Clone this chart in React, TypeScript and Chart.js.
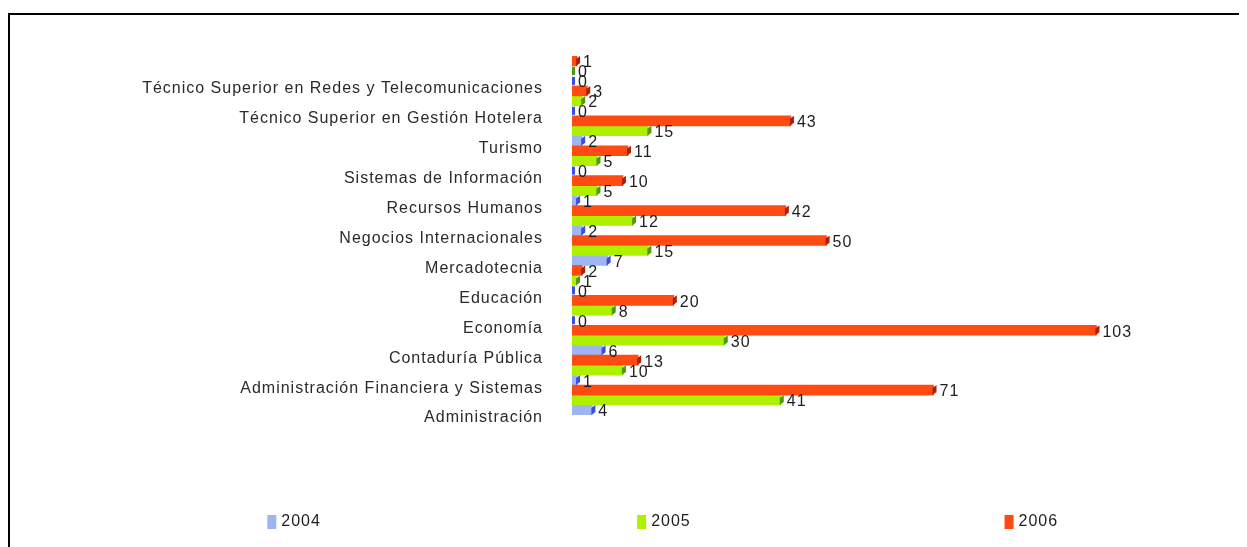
import React, { useEffect, useRef } from "react";
import { Chart, registerables } from "chart.js";

Chart.register(...registerables);

// Categories listed bottom-to-top (axis is reversed so the first one is at the bottom)
const categories: string[] = [
  "Administración",
  "Administración Financiera y Sistemas",
  "Contaduría Pública",
  "Economía",
  "Educación",
  "Mercadotecnia",
  "Negocios Internacionales",
  "Recursos Humanos",
  "Sistemas de Información",
  "Turismo",
  "Técnico Superior en Gestión Hotelera",
  "Técnico Superior en Redes y Telecomunicaciones",
];

const legendNames: string[] = ["2004", "2005", "2006"];
const values2004: number[] = [4, 1, 6, 0, 0, 7, 2, 1, 0, 2, 0, 0];
const values2005: number[] = [41, 10, 30, 8, 1, 15, 12, 5, 5, 15, 2, 0];
const values2006: number[] = [71, 13, 103, 20, 2, 50, 42, 10, 11, 43, 3, 1];

const fillColors: string[] = ["#9db6f2", "#aef000", "#ff4a12"];
const capColors: string[] = ["#3a4ee6", "#4c9a06", "#b01e04"];

const FONT = "'Liberation Sans', Arial, sans-serif";
const SPACING = "1px";

const setSpacing = (chart: any) => {
  try {
    chart.ctx.letterSpacing = SPACING;
  } catch (e) {}
};

const spacingPlugin = {
  id: "spacing",
  beforeInit: setSpacing,
  beforeUpdate: setSpacing,
  beforeLayout: setSpacing,
  beforeDraw: setSpacing,
};

const barDecorations = {
  id: "barDecorations",
  afterDatasetsDraw(chart: any) {
    const ctx = chart.ctx;
    ctx.save();
    chart.data.datasets.forEach((ds: any, di: number) => {
      const meta = chart.getDatasetMeta(di);
      const cap = ds.capColor;
      meta.data.forEach((el: any, i: number) => {
        const x = el.x;
        const y = el.y;
        const h = el.height;
        const top = y - h / 2;
        const bot = y + h / 2;
        ctx.fillStyle = cap;
        if (ds.data[i] > 0) {
          ctx.beginPath();
          ctx.moveTo(x - 1, top + 3);
          ctx.lineTo(x + 3, top);
          ctx.lineTo(x + 3, bot - 3);
          ctx.lineTo(x - 1, bot);
          ctx.closePath();
          ctx.fill();
        } else {
          ctx.fillRect(x, top + 1, 3, h - 2);
        }
      });
    });
    ctx.letterSpacing = SPACING;
    ctx.font = `16px ${FONT}`;
    ctx.fillStyle = "#1e1e1e";
    ctx.textAlign = "left";
    ctx.textBaseline = "middle";
    chart.data.datasets.forEach((ds: any, di: number) => {
      const meta = chart.getDatasetMeta(di);
      meta.data.forEach((el: any, i: number) => {
        ctx.fillText(String(ds.data[i]), el.x + 6, el.y + 2);
      });
    });
    ctx.restore();
  },
};

const customLegend = {
  id: "customLegend",
  afterDraw(chart: any) {
    const ctx = chart.ctx;
    const w = chart.width;
    const xs = [w * 0.208, w * 0.507, w * 0.804];
    const y = 507;
    ctx.save();
    ctx.letterSpacing = SPACING;
    ctx.font = `16px ${FONT}`;
    ctx.textAlign = "left";
    ctx.textBaseline = "middle";
    legendNames.forEach((name, i) => {
      ctx.fillStyle = fillColors[i];
      ctx.fillRect(xs[i], y - 7, 9, 14);
      ctx.fillStyle = "#1e1e1e";
      ctx.fillText(name, xs[i] + 14, y);
    });
    ctx.restore();
  },
};

export default function App() {
  const canvasRef = useRef<HTMLCanvasElement | null>(null);

  useEffect(() => {
    document.documentElement.style.overflow = "hidden";
    const canvas = canvasRef.current;
    if (!canvas) return;
    // drawn top-to-bottom inside each group: 2006, 2005, 2004
    const order = [2, 1, 0];
    const seriesValues = [values2004, values2005, values2006];
    const chart = new Chart(canvas, {
      type: "bar",
      data: {
        labels: categories,
        datasets: order.map((i) => ({
          label: legendNames[i],
          data: seriesValues[i],
          backgroundColor: fillColors[i],
          capColor: capColors[i],
          borderWidth: 0,
          barPercentage: 1,
          categoryPercentage: 1,
        })) as any,
      },
      options: {
        indexAxis: "y",
        animation: false,
        responsive: false,
        maintainAspectRatio: false,
        layout: { padding: { top: 41, bottom: 132, left: 0, right: 64 } },
        plugins: {
          legend: { display: false },
          tooltip: { enabled: false },
        },
        scales: {
          x: {
            display: false,
            min: 0,
            max: 120,
          },
          y: {
            reverse: true,
            grid: { display: false },
            border: { display: false },
            afterFit: (s: any) => {
              s.width = 562;
            },
            ticks: {
              padding: 21,
              labelOffset: 18,
              color: "#2a2a2a",
              font: { family: FONT, size: 16 },
              autoSkip: false,
            },
          },
        },
      },
      plugins: [spacingPlugin, barDecorations, customLegend],
    });
    return () => chart.destroy();
  }, []);

  return (
    <div style={{ paddingTop: 5 }}>
      <div
        style={{
          borderTop: "2px solid #000",
          borderLeft: "2px solid #000",
          width: 1239,
          height: 532,
          background: "#fff",
        }}
      >
        <canvas
          ref={canvasRef}
          width={1237}
          height={532}
          style={{ display: "block", width: 1237, height: 532 }}
        />
      </div>
    </div>
  );
}
